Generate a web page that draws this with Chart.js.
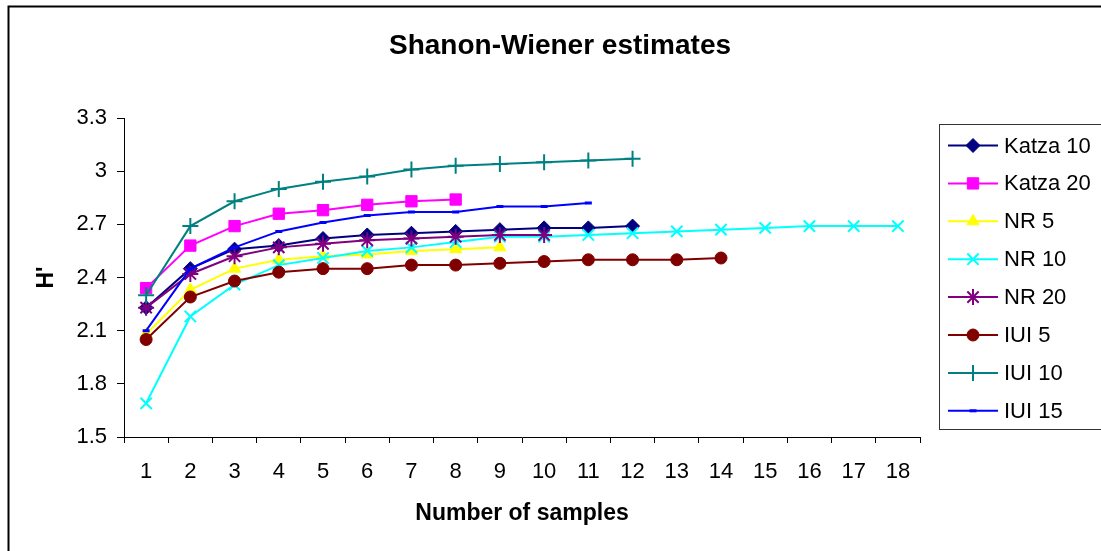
<!DOCTYPE html>
<html>
<head>
<meta charset="utf-8">
<title>Shanon-Wiener estimates</title>
<script src="https://cdn.jsdelivr.net/npm/chart.js@4.4.0/dist/chart.umd.min.js"></script>
<style>
    body { margin: 0; background: #fff; }
    canvas { display: block; }
</style>
</head>
<body>
<canvas id="swChart" width="1101" height="551"></canvas>
<script>
// Number of samples (x categories)
const sampleCounts = ['1', '2', '3', '4', '5', '6', '7', '8', '9', '10', '11', '12', '13', '14', '15', '16', '17', '18'];
const yTicks = [1.5, 1.8, 2.1, 2.4, 2.7, 3.0, 3.3];

// H' per number of samples, one array per site
const katza10 = [2.23, 2.45, 2.56, 2.58, 2.62, 2.64, 2.65, 2.66, 2.67, 2.68, 2.68, 2.69];
const katza20 = [2.34, 2.58, 2.69, 2.76, 2.78, 2.81, 2.83, 2.84];
const nr5 = [2.08, 2.33, 2.45, 2.50, 2.52, 2.53, 2.55, 2.56, 2.57];
const nr10 = [1.69, 2.18, 2.36, 2.47, 2.51, 2.55, 2.57, 2.60, 2.63, 2.63, 2.64, 2.65, 2.66, 2.67, 2.68, 2.69, 2.69, 2.69];
const nr20 = [2.23, 2.42, 2.52, 2.57, 2.59, 2.61, 2.62, 2.63, 2.64, 2.64];
const iui5 = [2.05, 2.29, 2.38, 2.43, 2.45, 2.45, 2.47, 2.47, 2.48, 2.49, 2.50, 2.50, 2.50, 2.51];
const iui10 = [2.30, 2.69, 2.83, 2.90, 2.94, 2.97, 3.01, 3.03, 3.04, 3.05, 3.06, 3.07];
const iui15 = [2.10, 2.45, 2.57, 2.66, 2.71, 2.75, 2.77, 2.77, 2.80, 2.80, 2.82];

const FONT = "'Liberation Sans', Arial, sans-serif";

function series(label, data, color, style, radius, markerWidth) {
    return {
        label: label,
        data: data,
        borderColor: color,
        backgroundColor: color,
        borderWidth: 2,
        pointStyle: style,
        pointRadius: radius,
        pointHoverRadius: radius,
        pointBackgroundColor: color,
        pointBorderColor: color,
        pointBorderWidth: markerWidth,
        tension: 0,
        fill: false
    };
}

const datasets = [
    series('Katza 10', katza10, '#000080', 'rectRot', 7, 1),
    series('Katza 20', katza20, '#FF00FF', 'rect', 8, 1),
    series('NR 5', nr5, '#FFFF00', 'triangle', 7, 1),
    series('NR 10', nr10, '#00FFFF', 'crossRot', 8, 2),
    series('NR 20', nr20, '#800080', 'star', 8, 2),
    series('IUI 5', iui5, '#800000', 'circle', 6, 1),
    series('IUI 10', iui10, '#008080', 'cross', 8, 2),
    series('IUI 15', iui15, '#0000FF', 'line', 3.5, 3)
];
// later series sit on top of earlier ones
datasets.forEach((ds, i) => { ds.order = datasets.length - i; });

// Frame, title and legend drawn straight onto the canvas
const decorations = {
    id: 'decorations',
    beforeDraw(chart) {
        const ctx = chart.ctx;
        ctx.save();
        ctx.fillStyle = '#fff';
        ctx.fillRect(0, 0, chart.width, chart.height);
        ctx.strokeStyle = '#000';
        ctx.lineWidth = 2;
        ctx.strokeRect(8.5, 6.5, chart.width + 20, chart.height + 20);
        ctx.restore();
    },
    afterDraw(chart) {
        const ctx = chart.ctx;
        ctx.save();
        ctx.fillStyle = '#000';
        ctx.font = 'bold 28px ' + FONT;
        ctx.textAlign = 'center';
        ctx.textBaseline = 'alphabetic';
        ctx.fillText('Shanon-Wiener estimates', 560, 53.5);

        // legend box
        ctx.strokeStyle = '#333';
        ctx.lineWidth = 1;
        ctx.strokeRect(939.5, 124.5, 200, 305);

        ctx.font = '22px ' + FONT;
        ctx.textAlign = 'left';
        ctx.textBaseline = 'middle';
        chart.data.datasets.forEach((ds, i) => {
            const y = 145.5 + i * 37.9;
            ctx.strokeStyle = ds.borderColor;
            ctx.lineWidth = 2;
            ctx.beginPath();
            ctx.moveTo(948, y);
            ctx.lineTo(998, y);
            ctx.stroke();

            ctx.fillStyle = ds.pointBackgroundColor;
            ctx.strokeStyle = ds.pointBorderColor;
            ctx.lineWidth = ds.pointBorderWidth;
            Chart.helpers.drawPoint(ctx, {
                pointStyle: ds.pointStyle,
                radius: ds.pointRadius,
                rotation: 0,
                borderWidth: ds.pointBorderWidth
            }, 973, y);

            ctx.fillStyle = '#000';
            ctx.fillText(ds.label, 1004, y + 1);
        });
        ctx.restore();
    }
};

const ctx = document.getElementById('swChart').getContext('2d');
new Chart(ctx, {
    type: 'line',
    data: {
        labels: sampleCounts,
        datasets: datasets
    },
    options: {
        responsive: false,
        animation: false,
        devicePixelRatio: 1,
        layout: {
            padding: { left: 20, right: 181, top: 118, bottom: 20 }
        },
        plugins: {
            legend: { display: false },
            title: { display: false },
            tooltip: { enabled: false }
        },
        scales: {
            x: {
                type: 'category',
                offset: true,
                afterFit: (scale) => { scale.height = 94; },
                grid: {
                    display: true,
                    offset: true,
                    drawOnChartArea: false,
                    drawTicks: true,
                    tickLength: 6,
                    color: '#000'
                },
                border: { display: true, color: '#000', width: 1 },
                ticks: {
                    color: '#000',
                    padding: 16,
                    maxRotation: 0,
                    autoSkip: false,
                    font: { family: FONT, size: 22 }
                },
                title: {
                    display: true,
                    text: 'Number of samples',
                    color: '#000',
                    padding: { top: 0, bottom: 4 },
                    font: { family: FONT, size: 23, weight: 'bold' }
                }
            },
            y: {
                min: 1.5,
                max: 3.3,
                afterFit: (scale) => { scale.width = 104; },
                afterBuildTicks: (scale) => {
                    scale.ticks = yTicks.map(v => ({ value: v }));
                },
                grid: {
                    display: true,
                    drawOnChartArea: false,
                    drawTicks: true,
                    tickLength: 7,
                    color: '#000'
                },
                border: { display: true, color: '#000', width: 1 },
                ticks: {
                    color: '#000',
                    padding: 10,
                    font: { family: FONT, size: 22 },
                    callback: (v) => String(Number(v.toFixed(1)))
                },
                title: {
                    display: true,
                    text: "H'",
                    color: '#000',
                    padding: { top: 13, bottom: 0 },
                    font: { family: FONT, size: 23, weight: 'bold' }
                }
            }
        }
    },
    plugins: [decorations]
});
</script>
</body>
</html>
